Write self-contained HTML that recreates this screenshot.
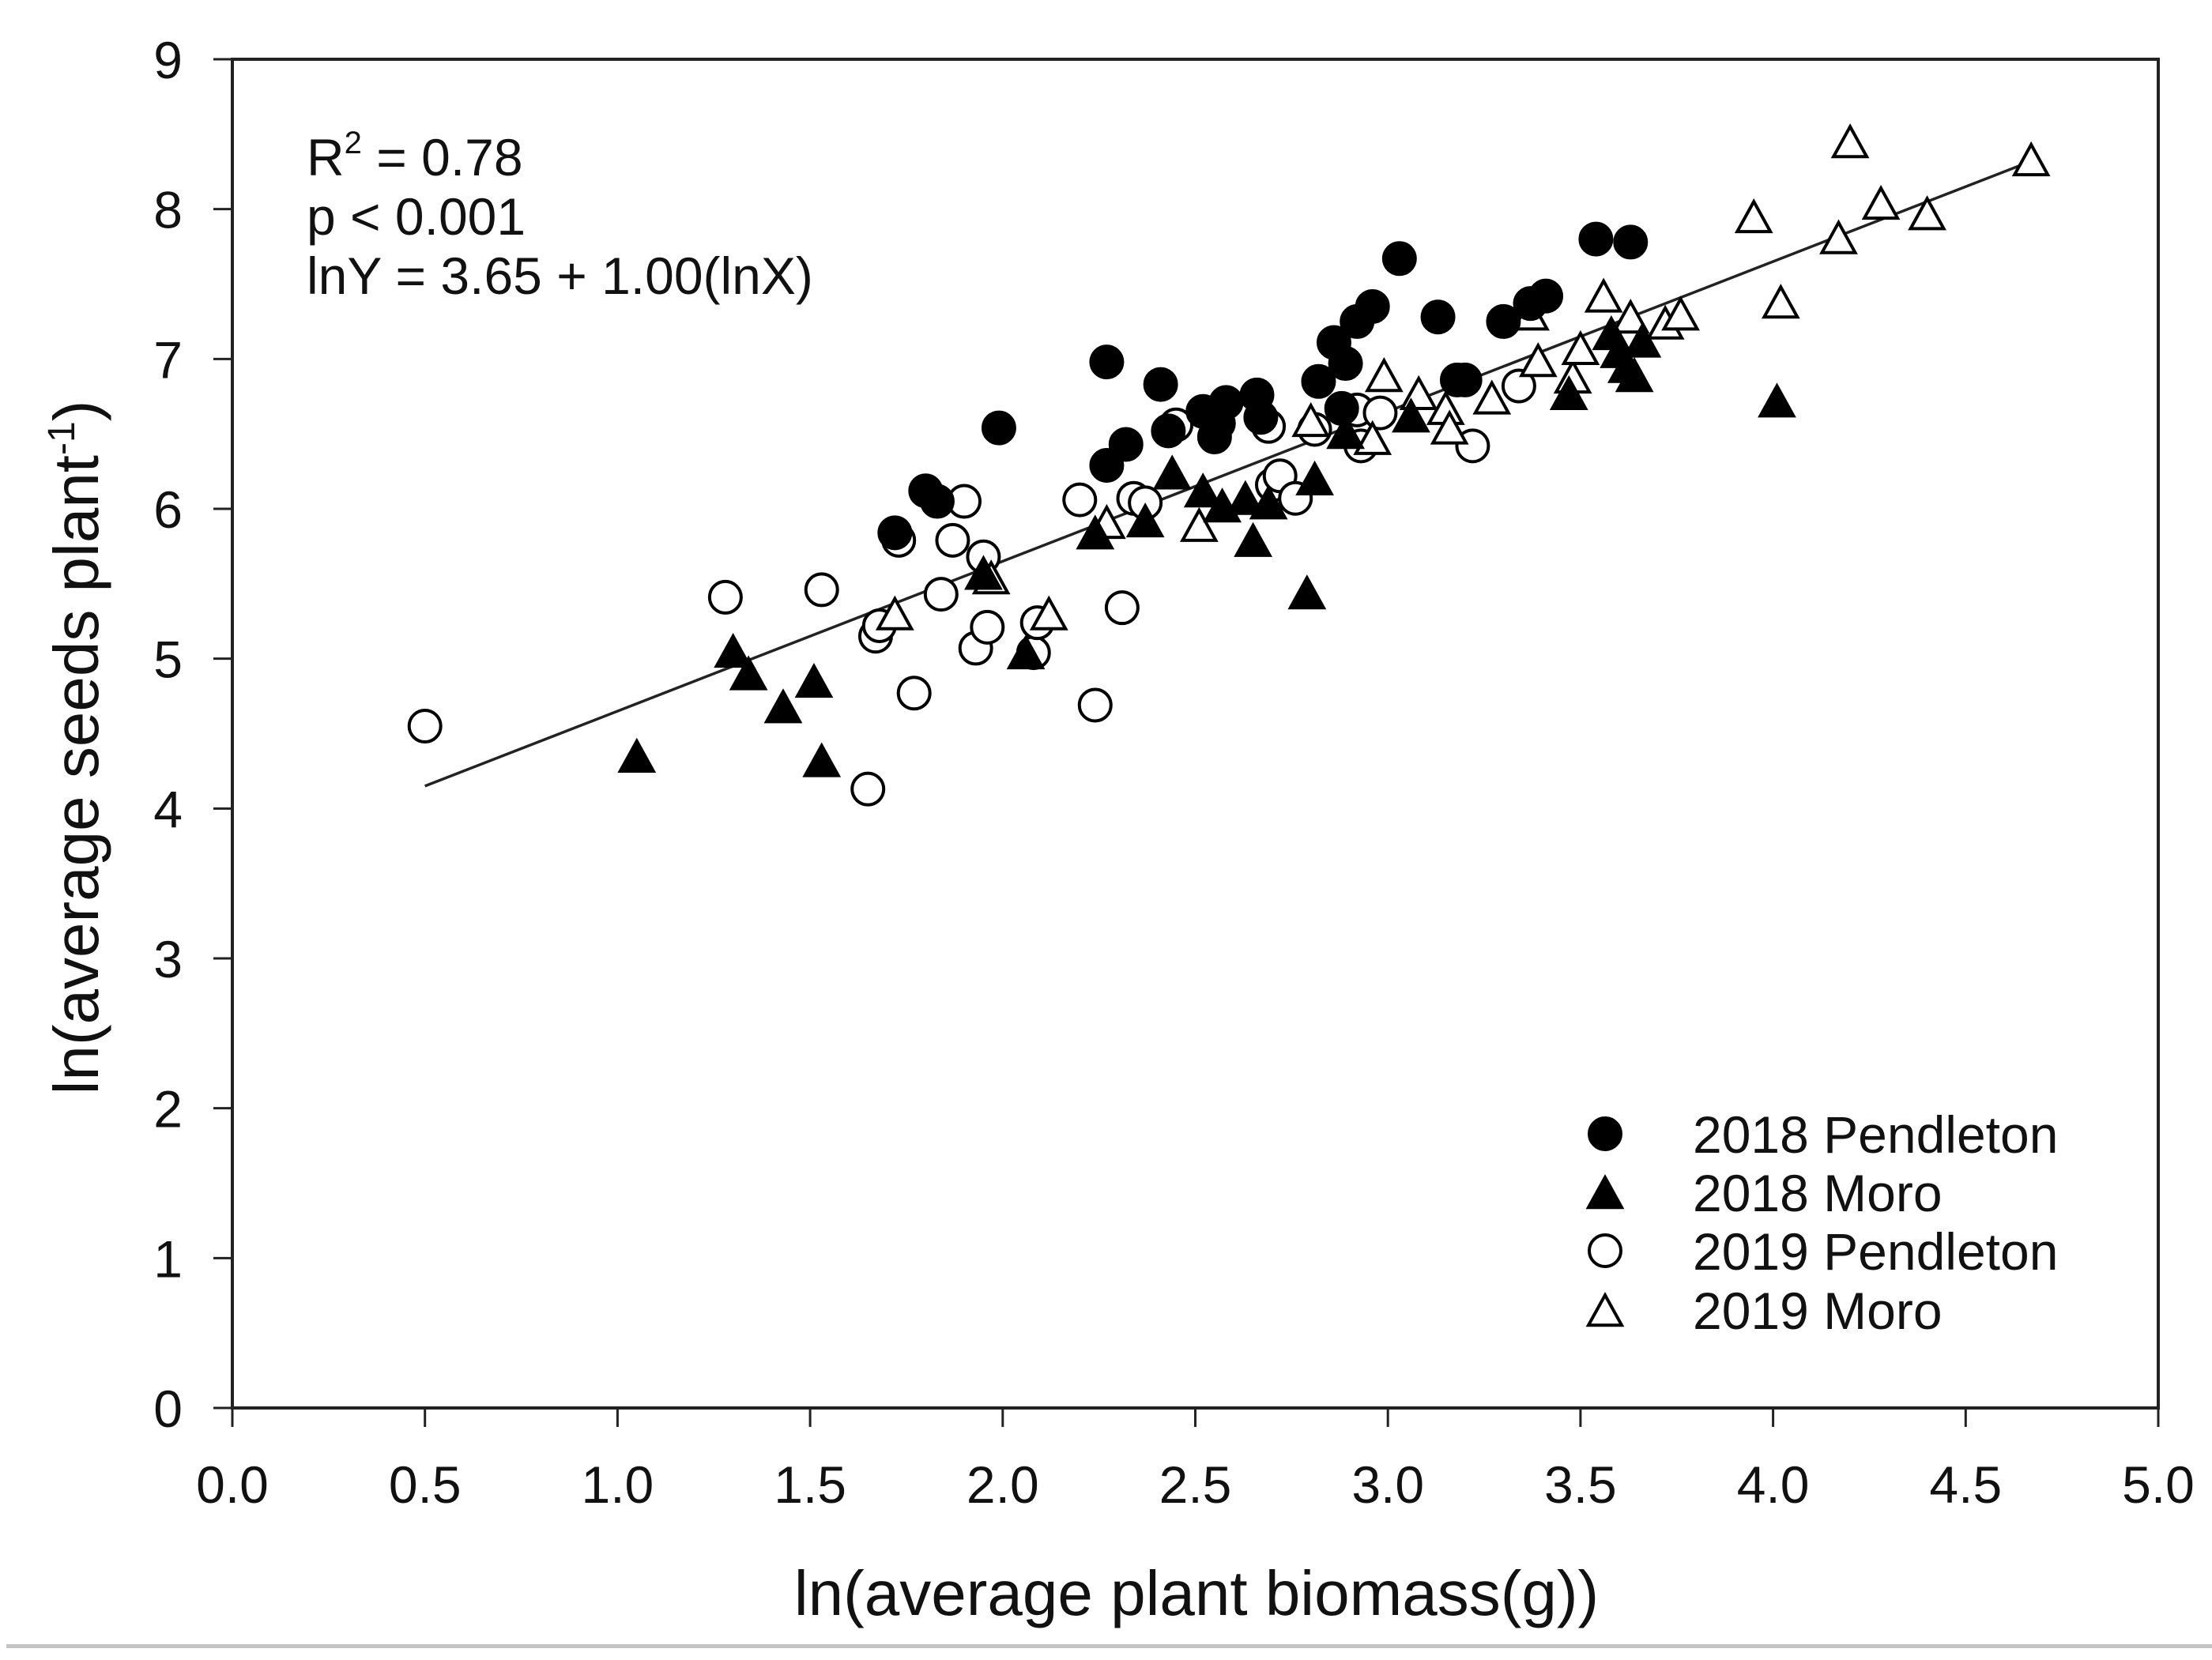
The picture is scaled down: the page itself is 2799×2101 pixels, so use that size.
<!DOCTYPE html>
<html><head><meta charset="utf-8"><style>html,body{margin:0;padding:0;background:#fff}svg{display:block}text{font-family:"Liberation Sans",Arial,sans-serif;fill:#111}</style></head>
<body>
<svg id="chart" width="2799" height="2101" viewBox="0 0 2799 2101" xmlns="http://www.w3.org/2000/svg">
<g id="plot"></g>
</svg>
<script>
const xTicks = [0.0,0.5,1.0,1.5,2.0,2.5,3.0,3.5,4.0,4.5,5.0];
const xTickLabels = ["0.0","0.5","1.0","1.5","2.0","2.5","3.0","3.5","4.0","4.5","5.0"];
const yTicks = [0,1,2,3,4,5,6,7,8,9];
const yTickLabels = ["0","1","2","3","4","5","6","7","8","9"];
const pend18X = [1.72,1.80,1.83,1.99,2.27,2.27,2.32,2.41,2.43,2.52,2.55,2.58,2.56,2.66,2.67,2.82,2.86,2.89,2.92,2.96,3.03,3.13,3.18,3.20,3.30,3.41,3.37,3.54,3.63,2.88];
const pend18Y = [5.84,6.12,6.05,6.54,6.98,6.29,6.43,6.83,6.52,6.65,6.48,6.71,6.57,6.76,6.61,6.85,7.11,6.97,7.25,7.35,7.67,7.28,6.86,6.86,7.25,7.42,7.37,7.80,7.78,6.67];
const moro18X = [1.05,1.30,1.34,1.43,1.51,1.53,1.95,2.06,2.24,2.37,2.44,2.52,2.57,2.63,2.65,2.69,2.81,2.79,2.89,3.06,3.47,3.60,3.62,3.64,3.66,4.01,3.58];
const moro18Y = [4.33,5.03,4.88,4.66,4.83,4.30,5.55,5.02,5.82,5.90,6.22,6.10,6.00,6.05,5.77,6.02,6.18,5.42,6.49,6.60,6.75,7.03,6.93,6.87,7.10,6.70,7.15];
const pend19X = [0.50,1.28,1.53,1.65,1.67,1.68,1.73,1.77,1.84,1.87,1.90,1.93,1.95,1.96,2.08,2.09,2.20,2.24,2.31,2.34,2.37,2.45,2.69,2.70,2.72,2.76,2.81,2.92,2.93,2.98,3.22,3.34];
const pend19Y = [4.55,5.41,5.46,4.13,5.15,5.22,5.79,4.77,5.43,5.79,6.05,5.07,5.68,5.21,5.04,5.24,6.06,4.69,5.34,6.07,6.04,6.56,6.55,6.16,6.22,6.07,6.53,6.66,6.42,6.64,6.42,6.82];
const moro19X = [1.72,1.97,2.12,2.27,2.51,2.80,2.96,2.99,3.08,3.15,3.16,3.27,3.37,3.39,3.48,3.50,3.56,3.63,3.72,3.76,3.95,4.02,4.17,4.20,4.28,4.40,4.67];
const moro19Y = [5.28,5.52,5.28,5.89,5.87,6.57,6.45,6.87,6.75,6.65,6.52,6.72,7.28,6.97,6.86,7.05,7.40,7.26,7.22,7.28,7.93,7.36,7.79,8.43,8.02,7.95,8.31];
const fitX = [0.50,4.67];
const fitIntercept = 3.65;
const fitSlope = 1.00;

const NS = "http://www.w3.org/2000/svg";
const X0 = 294, X1 = 2731, Y0 = 1782, Y1 = 75;
function sx(v){ return X0 + (v - 0) / 5 * (X1 - X0); }
function sy(v){ return Y0 - (v - 0) / 9 * (Y0 - Y1); }
const plot = document.getElementById('plot');
function mk(tag, attrs, parent){
  const e = document.createElementNS(NS, tag);
  for (const k in attrs) e.setAttribute(k, attrs[k]);
  (parent || plot).appendChild(e);
  return e;
}
let fr = mk('rect', {x:X0, y:Y1, width:X1-X0, height:Y0-Y1, fill:'none', stroke:'#222', 'stroke-width':4});


xTicks.forEach((t,i)=>{
  const l = mk('line', {x1:sx(t), x2:sx(t), y1:Y0, y2:Y0+24, stroke:'#222', 'stroke-width':3});
  
  
  const tx = mk('text', {x:sx(t), y:1902, 'text-anchor':'middle', 'font-size':66});
  tx.textContent = xTickLabels[i];
  
  
});
yTicks.forEach((t,i)=>{
  const l = mk('line', {x1:X0-24, x2:X0, y1:sy(t), y2:sy(t), stroke:'#222', 'stroke-width':3});
  
  
  const tx = mk('text', {x:231, y:sy(t)+24, 'text-anchor':'end', 'font-size':66});
  tx.textContent = yTickLabels[i];
  
  
});
const fl = mk('line', {x1:sx(fitX[0]), y1:sy(fitIntercept+fitSlope*fitX[0]), x2:sx(fitX[1]), y2:sy(fitIntercept+fitSlope*fitX[1]), stroke:'#222', 'stroke-width':3.5});


const R = 20;
function circle(cx, cy, filled){
  return mk('circle', {cx:cx, cy:cy, r:R, fill: filled ? '#000' : '#fff', stroke:'#000', 'stroke-width':4});
}
function tri(cx, cy, filled){
  const h = 38, w = 42;
  return mk('polygon', {points:`${cx},${cy-h*0.6} ${cx-w/2},${cy+h*0.4} ${cx+w/2},${cy+h*0.4}`, fill: filled ? '#000' : '#fff', stroke:'#000', 'stroke-width':4, 'stroke-linejoin':'miter'});
}
pend19X.forEach((x,i)=>{ const e = circle(sx(x), sy(pend19Y[i]), false);
  
   });
moro19X.forEach((x,i)=>{ const e = tri(sx(x), sy(moro19Y[i]), false);
  
   });
moro18X.forEach((x,i)=>{ const e = tri(sx(x), sy(moro18Y[i]), true);
  
   });
pend18X.forEach((x,i)=>{ const e = circle(sx(x), sy(pend18Y[i]), true);
  
   });
const legY = [1435,1509,1583,1658];
const legNames = ["2018 Pendleton","2018 Moro","2019 Pendleton","2019 Moro"];
legNames.forEach((n,i)=>{
  const m = (i%2===0) ? circle(2031, legY[i], i<2) : tri(2031, legY[i]+4, i<2);
  
  
  const t = mk('text', {x:2142, y:legY[i]+24, 'font-size':66});
  t.textContent = n;
  
  
});
</script>
<svg style="position:absolute;left:0;top:0" width="2799" height="2101" viewBox="0 0 2799 2101" xmlns="http://www.w3.org/2000/svg">
<text x="388" y="222" font-size="66">R<tspan dy="-28" font-size="40">2</tspan><tspan dy="28"> = 0.78</tspan></text>
<text x="388" y="297" font-size="66">p &lt; 0.001</text>
<text x="388" y="372" font-size="66">lnY = 3.65 + 1.00(lnX)</text>
<text x="1514" y="2044" font-size="80" text-anchor="middle">ln(average plant biomass(g))</text>
<text transform="translate(124,946) rotate(-90)" font-size="80" text-anchor="middle">ln(average seeds plant<tspan dy="-30" font-size="48">-1</tspan><tspan dy="30">)</tspan></text>
<rect x="8" y="2081" width="2791" height="5" fill="#c4c4c4"/>
</svg>
</body></html>
